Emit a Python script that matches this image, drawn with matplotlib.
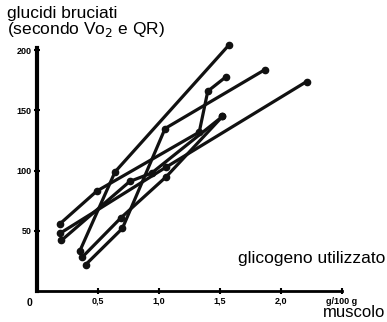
import matplotlib.pyplot as plt

plt.rcParams['font.family'] = ['Liberation Sans', 'DejaVu Sans']

# glycogen used (g/100 g muscle) vs carbohydrate burned, one line per subject
x1 = [0.19, 0.49, 1.33, 1.40, 1.55]
y1 = [56, 83, 132, 166, 178]
x2 = [0.19, 1.06, 2.21]
y2 = [48, 103, 174]
x3 = [0.35, 0.64, 1.57]
y3 = [33, 99, 204]
x4 = [0.40, 0.70, 1.05, 1.87]
y4 = [22, 52, 135, 184]
x5 = [0.20, 0.76, 0.94, 1.52]
y5 = [42, 91, 98, 145]
x6 = [0.37, 0.69, 1.06, 1.52]
y6 = [28, 61, 95, 145]

xticks = [0.5, 1.0, 1.5, 2.0, 2.5]
xlabels = ["0,5", "1,0", "1,5", "2,0", "g/100 g"]
yticks = [50, 100, 150, 200]
ylabels = ["50", "100", "150", "200"]

fig = plt.figure(figsize=(3.87, 3.22), dpi=100)
ax = fig.add_axes([0.0956, 0.0963, 0.788, 0.755])

for xs, ys in [(x1, y1), (x2, y2), (x3, y3), (x4, y4), (x5, y5), (x6, y6)]:
    ax.plot(xs, ys, "-", color="#111111", lw=2.3, marker="o", ms=4.5,
            solid_capstyle="round", clip_on=False)

ax.set_xlim(0, 2.5)
ax.set_ylim(0, 202)
for s in ["top", "right"]:
    ax.spines[s].set_visible(False)
ax.spines["left"].set_linewidth(3)
ax.spines["bottom"].set_linewidth(2)

ax.set_xticks(xticks)
ax.set_xticklabels(xlabels, fontsize=6.5, fontweight="bold")
ax.set_yticks(yticks)
ax.set_yticklabels(ylabels, fontsize=6.5, fontweight="bold")
ax.tick_params(axis="both", direction="inout", length=4, width=1.5, pad=2)

ax.text(-0.04, -6, "0", fontsize=7.5, fontweight="bold", ha="right", va="top")

fig.text(0.018, 0.982, "glucidi bruciati\n(secondo Vo$_2$ e QR)", fontsize=12.5,
         ha="left", va="top", linespacing=0.95)
fig.text(0.995, 0.198, "glicogeno utilizzato", fontsize=12.5, ha="right", va="center")
fig.text(0.995, 0.016, "muscolo", fontsize=12, ha="right", va="baseline")

fig.savefig("out.png", dpi=100, facecolor="white")
